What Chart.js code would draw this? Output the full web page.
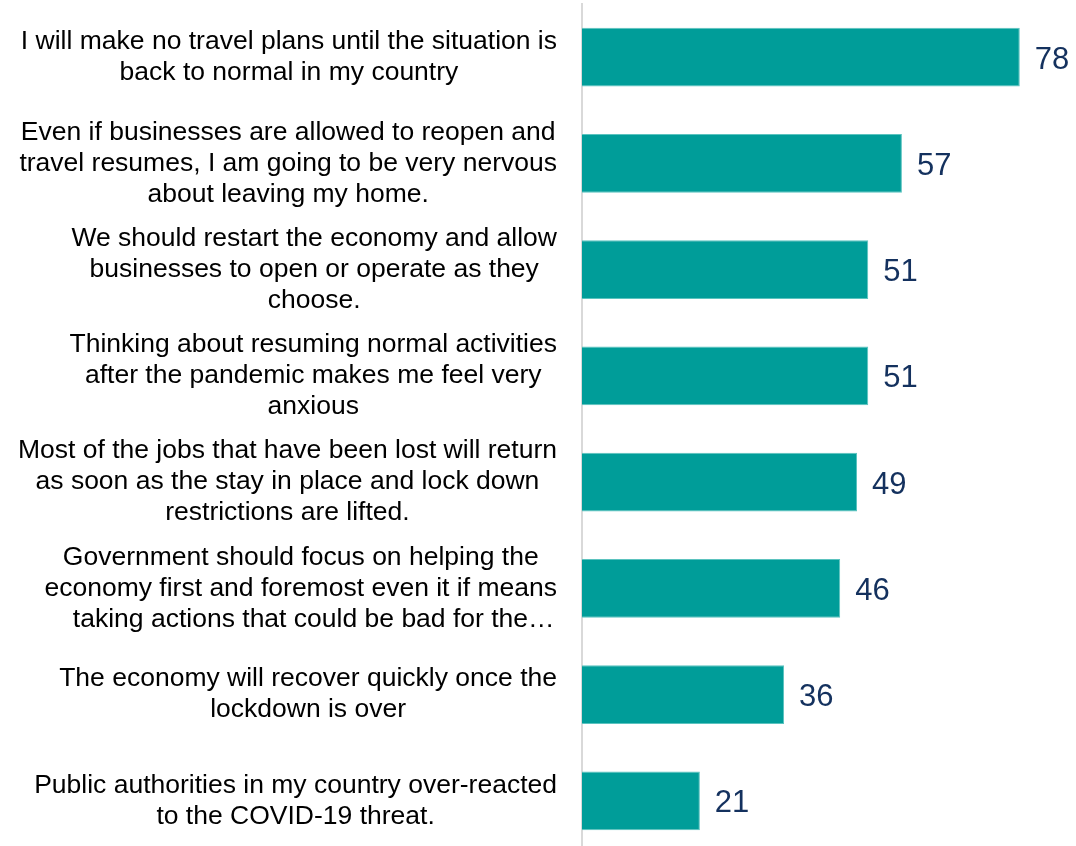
<!DOCTYPE html>
<html>
<head>
<meta charset="utf-8">
<script src="https://cdn.jsdelivr.net/npm/chart.js@4"></script>
<style>
  html, body { margin: 0; padding: 0; background: #fff; overflow: hidden; }
  #wrap { width: 1076px; height: 846px; overflow: hidden; }
</style>
</head>
<body>
<div id="wrap"><canvas id="statementChart" width="1076" height="854"></canvas></div>
<script>
// Statements, each split into the lines they are printed on
const statements = [
  ["I will make no travel plans until the situation is", "back to normal in my country"],
  ["Even if businesses are allowed to reopen and", "travel resumes, I am going to be very nervous", "about leaving my home."],
  ["We should restart the economy and allow", "businesses to open or operate as they", "choose."],
  ["Thinking about resuming normal activities", "after the pandemic makes me feel very", "anxious"],
  ["Most of the jobs that have been lost will return", "as soon as the stay in place and lock down", "restrictions are lifted."],
  ["Government should focus on helping the", "economy first and foremost even it if means", "taking actions that could be bad for the\u2026"],
  ["The economy will recover quickly once the", "lockdown is over"],
  ["Public authorities in my country over-reacted", "to the COVID-19 threat."]
];

// Share agreeing with each statement
const agreeValues = [78, 57, 51, 51, 49, 46, 36, 21];

const barColor = "#009D99";
const valueColor = "#14315E";
const labelFont = "26.5px 'Liberation Sans', Arial, sans-serif";
const valueFont = "31px 'Liberation Sans', Arial, sans-serif";

// Category labels: lines centred on each other, block right-aligned against the axis
const statementLabels = {
  id: "statementLabels",
  afterDraw(chart) {
    const ctx = chart.ctx;
    const yScale = chart.scales.y;
    const rightEdge = 557;
    const lineHeight = 31;
    ctx.save();
    ctx.font = labelFont;
    ctx.fillStyle = "#000";
    ctx.textAlign = "center";
    ctx.textBaseline = "middle";
    statements.forEach((lines, i) => {
      const yc = yScale.getPixelForValue(i);
      const maxW = Math.max(...lines.map(l => ctx.measureText(l).width));
      const cx = rightEdge - maxW / 2;
      lines.forEach((line, j) => {
        // the truncated line sits a little further right, as it is laid out for its full text
        const shift = line.endsWith("\u2026") ? 13 : 0;
        ctx.fillText(line, cx + shift, yc + (j - (lines.length - 1) / 2) * lineHeight);
      });
    });
    ctx.restore();
  }
};

// Value printed just past the end of each bar
const valueLabels = {
  id: "valueLabels",
  afterDatasetsDraw(chart) {
    const ctx = chart.ctx;
    const meta = chart.getDatasetMeta(0);
    ctx.save();
    ctx.font = valueFont;
    ctx.fillStyle = valueColor;
    ctx.textAlign = "left";
    ctx.textBaseline = "middle";
    meta.data.forEach((bar, i) => {
      ctx.fillText(String(agreeValues[i]), bar.x + 15, bar.y + 3);
    });
    ctx.restore();
  }
};

new Chart(document.getElementById("statementChart").getContext("2d"), {
  type: "bar",
  data: {
    labels: statements,
    datasets: [
      {
        data: agreeValues,
        backgroundColor: barColor,
        borderColor: "#5BC3BF",
        borderWidth: 1,
        borderSkipped: "left",
        barPercentage: 0.555,
        categoryPercentage: 1
      }
    ]
  },
  options: {
    indexAxis: "y",
    responsive: false,
    animation: false,
    layout: {
      padding: { left: 582, right: 45, top: 4, bottom: 0 }
    },
    plugins: {
      legend: { display: false },
      tooltip: { enabled: false }
    },
    scales: {
      x: {
        display: false,
        min: 0,
        max: 80
      },
      y: {
        ticks: { display: false },
        grid: { display: false, drawTicks: false },
        border: { display: true, color: "#D9D9D9", width: 2 }
      }
    }
  },
  plugins: [statementLabels, valueLabels]
});
</script>
</body>
</html>
